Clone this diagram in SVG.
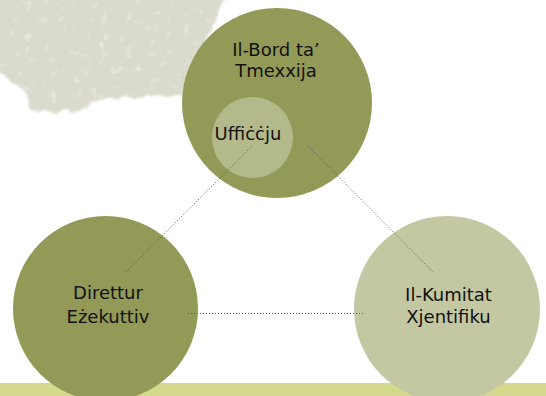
<svg xmlns="http://www.w3.org/2000/svg" width="546" height="396" viewBox="0 0 546 396">
  <style>
    .lbl { font-family: "DejaVu Sans", Verdana, sans-serif; font-size: 18px; fill: #111; text-anchor: middle; }
    .conn { stroke: #5a5a5a; stroke-width: 1; stroke-dasharray: 1 2; fill: none; }
    .dark { fill: #939957; }
    .inner { fill: #b4b98c; }
    .light { fill: #c3c7a2; }
  </style>
  <defs>
    <filter id="rough" x="-10%" y="-10%" width="120%" height="130%">
      <feTurbulence type="fractalNoise" baseFrequency="0.07" numOctaves="3" seed="4" result="n"/>
      <feDisplacementMap in="SourceGraphic" in2="n" scale="12" xChannelSelector="R" yChannelSelector="G" result="d0"/>
      <feGaussianBlur in="d0" stdDeviation="0.8" result="d"/>
      <feTurbulence type="fractalNoise" baseFrequency="0.12" numOctaves="2" seed="9" result="n2"/>
      <feColorMatrix in="n2" type="matrix" values="0 0 0 0 0.95  0 0 0 0 0.95  0 0 0 0 0.92  0 0 0 1.6 -0.95" result="spk"/>
      <feComposite in="spk" in2="d" operator="in" result="spk2"/>
      <feMerge><feMergeNode in="d"/><feMergeNode in="spk2"/></feMerge>
    </filter>
  </defs>
  <rect width="546" height="396" fill="#ffffff"/>
  <g id="tree">
    <path filter="url(#rough)" fill="#dadacd" d="M-10,-10 H228 L222,12 L210,30 L198,52 L188,80 L182,98 L160,95 L130,96 L100,100 L82,111 L55,114 L35,108 L22,92 L10,78 L-10,68 Z"/>
  </g>
  <rect id="band" x="0" y="383" width="546" height="13" fill="#d5d98d"/>
  <g id="node-bord">
    <circle class="dark" cx="277" cy="103" r="95"/>
    <text class="lbl" x="276" y="56">Il-Bord ta’</text>
    <text class="lbl" x="276" y="77">Tmexxija</text>
  </g>
  <g id="node-ufficcju">
    <circle class="inner" cx="252.5" cy="137.5" r="40.5"/>
    <text class="lbl" x="248" y="140">Uffiċċju</text>
  </g>
  <g id="node-direttur">
    <circle class="dark" cx="105.5" cy="308.5" r="92.5"/>
    <text class="lbl" x="108" y="299">Direttur</text>
    <text class="lbl" x="108" y="323">Eżekuttiv</text>
  </g>
  <g id="node-kumitat">
    <circle class="light" cx="447" cy="309" r="93"/>
    <text class="lbl" x="448.5" y="301">Il-Kumitat</text>
    <text class="lbl" x="448.5" y="323">Xjentifiku</text>
  </g>
  <g id="connectors">
    <line class="conn" x1="252" y1="146" x2="126" y2="272"/>
    <line class="conn" x1="308" y1="146" x2="433" y2="272"/>
    <line class="conn" x1="188" y1="313.5" x2="365" y2="313.5"/>
  </g>
</svg>
